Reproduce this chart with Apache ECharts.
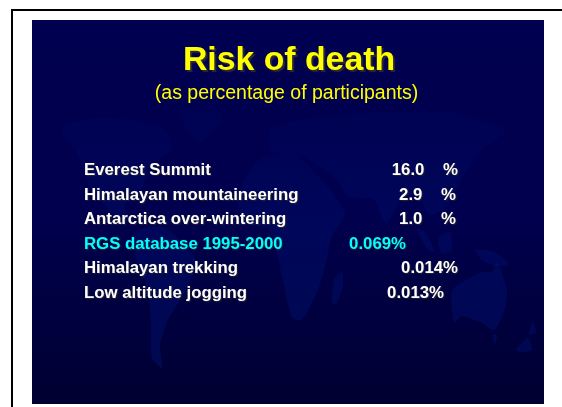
<!DOCTYPE html>
<html>
<head>
<meta charset="utf-8">
<style>html,body{margin:0;padding:0;background:#fff}#chart{width:562px;height:407px}</style>
<script src="https://cdn.jsdelivr.net/npm/echarts@6/dist/echarts.min.js"></script>
</head>
<body>
<div id="chart"></div>
<script>
var titleText = 'Risk of death';
var subtitleText = '(as percentage of participants)';
var activities = ['Everest Summit', 'Himalayan mountaineering', 'Antarctica over-wintering', 'RGS database 1995-2000', 'Himalayan trekking', 'Low altitude jogging'];
var riskLabels = ['16.0    %', '2.9    %', '1.0    %', '0.069%', '0.014%', '0.013%'];
var highlighted = 'RGS database 1995-2000';

// the slide does not line the numbers up, right edge of each one in px
var labelRight = [458, 456, 456, 406, 458, 444];

// faint world map behind the text, just decoration
var continents = [
  [[62,128],[95,118],[135,120],[165,130],[172,150],[150,165],[142,188],[125,205],[128,222],[112,212],[92,190],[78,155]],
  [[135,232],[160,226],[180,240],[197,262],[190,282],[180,300],[168,320],[160,345],[162,368],[152,358],[151,325],[148,290],[136,258]],
  [[178,108],[215,105],[222,122],[200,142],[188,130]],
  [[262,158],[295,154],[315,172],[330,190],[345,214],[332,236],[326,262],[318,290],[302,320],[292,318],[284,285],[276,250],[268,228],[248,224],[238,206],[245,178]],
  [[270,130],[310,118],[380,112],[450,112],[505,130],[480,152],[462,178],[448,205],[430,215],[418,195],[402,198],[386,224],[374,200],[348,196],[335,178],[300,155],[272,152]],
  [[332,303],[334,280],[342,272],[343,285],[337,303]],
  [[416,228],[425,232],[435,252],[428,250]],
  [[438,238],[450,232],[452,250],[442,254]],
  [[475,250],[495,252],[508,264],[496,266],[482,260]],
  [[452,290],[470,278],[482,272],[492,272],[497,262],[507,290],[504,312],[494,330],[480,322],[462,316],[454,322]],
  [[492,335],[497,335],[495,344]],
  [[516,350],[528,338],[532,350],[522,352]],
  [[529,335],[533,322],[536,332]]
];

var mapFill = new echarts.graphic.LinearGradient(0, 100, 0, 340, [
  { offset: 0, color: 'rgba(0,20,120,0.05)' },
  { offset: 0.5, color: 'rgba(0,20,120,0.3)' },
  { offset: 1, color: 'rgba(0,20,120,0.4)' }
], true);

var graphicItems = [
  { type: 'rect', shape: { x: 32, y: 20, width: 512, height: 384 }, silent: true,
    style: { fill: new echarts.graphic.LinearGradient(0, 0, 0, 1, [
      { offset: 0, color: '#000050' },
      { offset: 0.5, color: '#00004e' },
      { offset: 1, color: '#000032' }
    ]) } }
];
continents.forEach(function (pts) {
  graphicItems.push({ type: 'polygon', shape: { points: pts, smooth: 0.2 }, silent: true,
    style: { fill: mapFill } });
});
graphicItems.push(
  { type: 'line', shape: { x1: 11, y1: 10, x2: 562, y2: 10 }, silent: true, style: { stroke: '#000', lineWidth: 2 } },
  { type: 'line', shape: { x1: 12, y1: 9, x2: 12, y2: 407 }, silent: true, style: { stroke: '#000', lineWidth: 2 } }
);

var option = {
  animation: false,
  backgroundColor: '#fff',
  textStyle: { fontFamily: '"Liberation Sans", Arial, sans-serif' },
  graphic: graphicItems,
  title: [{
    text: titleText, left: 284, top: 39, textAlign: 'center',
    textStyle: {
      color: '#ffff00', fontSize: 33.8, fontWeight: 'bold', fontFamily: '"Liberation Sans", Arial, sans-serif',
      textShadowColor: '#2a2a30', textShadowBlur: 1, textShadowOffsetX: 2, textShadowOffsetY: 2
    }
  }, {
    text: subtitleText, left: 281.5, top: 79, textAlign: 'center',
    textStyle: { color: '#ffff00', fontSize: 19.5, fontWeight: 'normal', fontFamily: '"Liberation Sans", Arial, sans-serif' }
  }],
  grid: { left: 84, top: 158, width: 400, height: 147.6 },
  xAxis: { type: 'value', min: 84, max: 484, show: false },
  yAxis: {
    type: 'category',
    inverse: true,
    data: activities,
    axisLine: { show: false },
    axisTick: { show: false },
    splitLine: { show: false },
    axisLabel: {
      align: 'left',
      margin: 0,
      interval: 0,
      fontSize: 16.8,
      fontWeight: 'bold',
      fontFamily: '"Liberation Sans", Arial, sans-serif',
      textShadowColor: '#20202e',
      textShadowOffsetX: 1,
      textShadowOffsetY: 1,
      textShadowBlur: 1,
      color: function (value) {
        return value === highlighted ? '#00ffff' : '#ffffff';
      }
    }
  },
  series: [{
    type: 'scatter',
    symbolSize: 0,
    silent: true,
    itemStyle: { opacity: 1 },
    data: activities.map(function (name, i) {
      return {
        value: [labelRight[i], name],
        label: {
          show: true,
          position: 'left',
          distance: 0,
          formatter: riskLabels[i],
          fontSize: 16.8,
          fontWeight: 'bold',
          fontFamily: '"Liberation Sans", Arial, sans-serif',
          color: name === highlighted ? '#00ffff' : '#ffffff',
          textShadowColor: '#20202e',
          textShadowOffsetX: 1,
          textShadowOffsetY: 1,
          textShadowBlur: 1
        }
      };
    })
  }]
};

var myChart = echarts.init(document.getElementById('chart'));
myChart.setOption(option);
</script>
</body>
</html>
